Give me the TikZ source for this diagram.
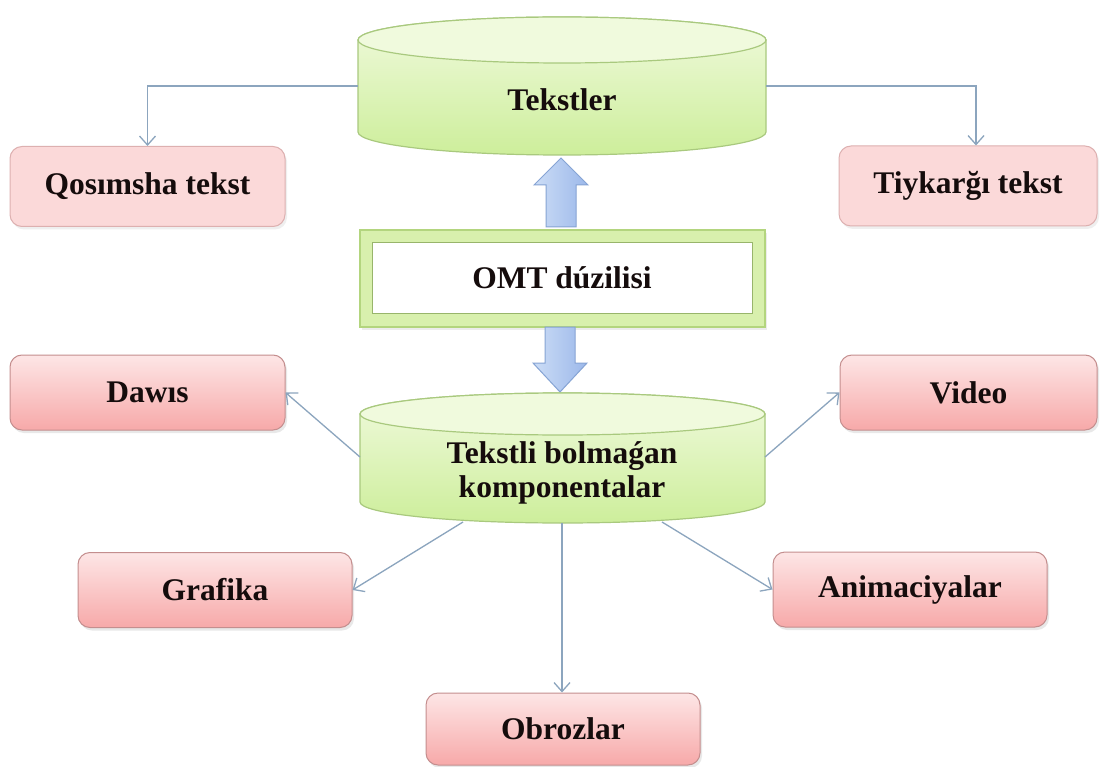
\documentclass[tikz,border=0pt]{standalone}
\usepackage{fontspec}
\setmainfont{Liberation Serif}
\usetikzlibrary{arrows.meta,shadows,calc}
\definecolor{lnk}{HTML}{8CA5BE}
\definecolor{pinkTop}{HTML}{FDE6E6}
\definecolor{pinkBot}{HTML}{F7A9A9}
\definecolor{pinkBorder}{HTML}{C48E8E}
\definecolor{pinkFlat}{HTML}{FBD9D9}
\definecolor{pinkFlatBorder}{HTML}{DDB0B0}
\definecolor{cylTop}{HTML}{F0FADD}
\definecolor{cylBot}{HTML}{CDEE9B}
\definecolor{cylBorder}{HTML}{A9C97E}
\definecolor{omtFill}{HTML}{D8F0AD}
\definecolor{omtBorder}{HTML}{B3D57E}
\definecolor{arrL}{HTML}{CCDDF6}
\definecolor{arrR}{HTML}{9CB8EA}
\definecolor{arrBorder}{HTML}{86A4D4}
\definecolor{txt}{HTML}{150C0C}
\tikzset{
  lbl/.style={font=\fontsize{31.5}{34}\selectfont\bfseries, text=txt},
  leafbox/.style={lbl, rounded corners=12pt, draw=pinkBorder, line width=1pt,
    top color=pinkTop, bottom color=pinkBot, minimum width=274pt, minimum height=75pt,
    drop shadow={shadow xshift=2pt, shadow yshift=-3pt, opacity=0.18}},
  topbox/.style={lbl, rounded corners=12pt, draw=pinkFlatBorder, line width=1pt,
    fill=pinkFlat, minimum height=80pt,
    drop shadow={shadow xshift=2pt, shadow yshift=-3pt, opacity=0.12}},
  conn/.style={draw=lnk, line width=1.3pt, -{Straight Barb[length=9pt,width=16pt,line width=1.3pt]}},
  cyl/.style={draw=cylBorder, line width=1.2pt, top color=cylTop, bottom color=cylBot},
  cyltop/.style={draw=cylBorder, line width=1.2pt, fill=cylTop},
  blockarrow/.style={draw=arrBorder, line width=1pt, left color=arrL, right color=arrR},
}
\begin{document}
\begin{tikzpicture}[x=1pt,y=1pt]
\useasboundingbox (0,0) rectangle (1102,-767);
\fill[white] (0,0) rectangle (1102,-767);

% ---- top cylinder "Tekstler"
\draw[cyl] (358,-40) -- (358,-132) arc[start angle=180,end angle=360,x radius=204pt,y radius=23pt]
  -- (766,-40) arc[start angle=0,end angle=180,x radius=204pt,y radius=23pt] -- cycle;
\draw[cyltop] (562,-40) ellipse[x radius=204pt,y radius=23pt];
\node[lbl] (tek) at (562,-100) {Tekstler};
\coordinate (tekW) at (358,-86);
\coordinate (tekE) at (766,-86);

% ---- top boxes
\node[topbox, minimum width=275pt] (qos) at (147.5,-186.5) {Qosımsha tekst};
\node[topbox, minimum width=258pt] (tiy) at (968,-186) {Tiykarğı tekst};

% ---- OMT box
\draw[draw=omtBorder, line width=1.2pt, fill=omtFill,
  drop shadow={shadow xshift=2pt, shadow yshift=-3pt, opacity=0.15}] (360,-230) rectangle (765,-327);
\draw[draw=omtBorder!85!black, line width=1pt, fill=white] (372,-243) rectangle (752,-313);
\node[lbl] (omt) at (562,-278) {OMT dúzilisi};

% ---- block arrows
\draw[blockarrow] (546,-227) -- (546,-185) -- (534,-185) -- (561,-158) -- (588,-185) -- (576,-185) -- (576,-227) -- cycle;
\draw[blockarrow] (545,-327) -- (545,-363) -- (533,-363) -- (560,-392) -- (587,-363) -- (575,-363) -- (575,-327) -- cycle;

% ---- bottom cylinder
\draw[cyl] (360,-414) -- (360,-502) arc[start angle=180,end angle=360,x radius=202.5pt,y radius=21pt]
  -- (765,-414) arc[start angle=0,end angle=180,x radius=202.5pt,y radius=21pt] -- cycle;
\draw[cyltop] (562.5,-414) ellipse[x radius=202.5pt,y radius=21pt];
\node[lbl, align=center] (tbk) at (562,-473) {Tekstli bolmaǵan\\komponentalar};
\coordinate (tbkW) at (360,-457);
\coordinate (tbkE) at (765,-457);
\coordinate (tbkSW) at (463,-522);
\coordinate (tbkS) at (562,-523);
\coordinate (tbkSE) at (662,-522);

% ---- leaf boxes
\node[leafbox, minimum width=275pt] (daw) at (147.5,-392.5) {Dawıs};
\node[leafbox, minimum width=257pt] (vid) at (968.5,-392.5) {Video};
\node[leafbox] (gra) at (215,-590) {Grafika};
\node[leafbox] (ani) at (910,-589.5) {Animaciyalar};
\node[leafbox, minimum height=72pt] (obr) at (563,-729) {Obrozlar};

% ---- connectors
\draw[conn] (tekW) -| (qos.north);
\draw[conn] (tekE) -| ($(tiy.north)+(8,0)$);
\draw[conn] (tbkW) -- (daw.east);
\draw[conn] (tbkE) -- (vid.west);
\draw[conn] (tbkSW) -- (gra.east);
\draw[conn] (tbkS) -- (tbkS |- obr.north);
\draw[conn] (tbkSE) -- (ani.west);
\end{tikzpicture}
\end{document}
